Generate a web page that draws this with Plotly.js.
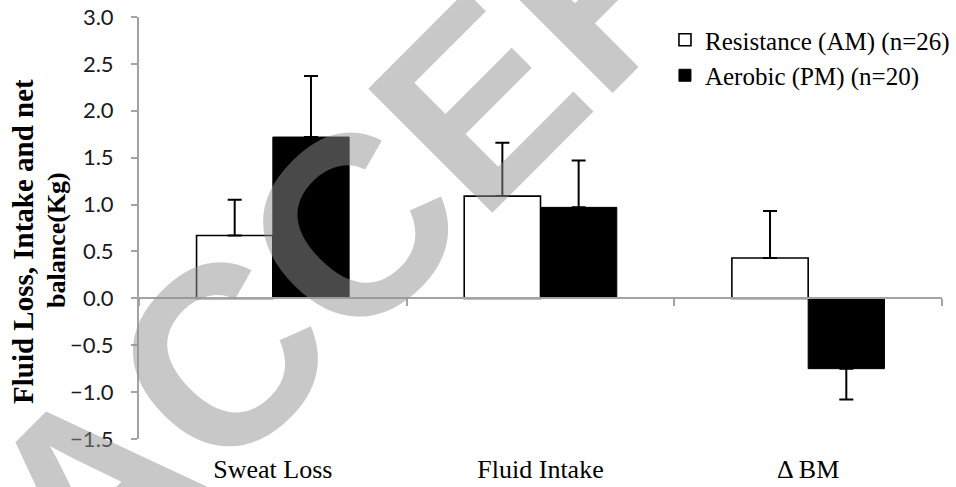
<!DOCTYPE html>
<html>
<head>
<meta charset="utf-8">
<script src="https://cdn.plot.ly/plotly-3.0.1.min.js"></script>
<style>html,body{margin:0;padding:0;background:#fff;}#chart{width:956px;height:487px;}</style>
</head>
<body>
<div id="chart"></div>
<script>
// ---- data ----
const categories = ["Sweat Loss", "Fluid Intake", "\u0394 BM"];
const seriesNames = ["Resistance (AM) (n=26)", "Aerobic (PM) (n=20)"];
const resistance = [0.67, 1.09, 0.43];
const resistanceErrUp = [0.38, 0.57, 0.50];
const resistanceErrDown = [0, 0, 0];
const aerobic = [1.72, 0.97, -0.75];
const aerobicErrUp = [0.65, 0.50, 0];
const aerobicErrDown = [0, 0, 0.33];
const yTicks = [-1.5, -1.0, -0.5, 0.0, 0.5, 1.0, 1.5, 2.0, 2.5, 3.0];
const yTitleLines = ["Fluid Loss, Intake and net", "balance(Kg)"];
const watermarkLetters = ["A", "C", "C", "E", "P"];

const serif = "'Liberation Serif', 'Times New Roman', serif";

const traces = [
  {
    type: "bar", name: seriesNames[0], x: categories, y: resistance,
    marker: {color: "#ffffff", line: {color: "#000000", width: 1.6}},
    error_y: {type: "data", symmetric: false, array: resistanceErrUp, arrayminus: resistanceErrDown,
              color: "#000000", thickness: 2, width: 7},
    hoverinfo: "skip"
  },
  {
    type: "bar", name: seriesNames[1], x: categories, y: aerobic,
    marker: {color: "#000000", line: {color: "#000000", width: 1}},
    error_y: {type: "data", symmetric: false, array: aerobicErrUp, arrayminus: aerobicErrDown,
              color: "#000000", thickness: 2, width: 7},
    hoverinfo: "skip"
  },
  {
    // carrier for the category axis drawn along y = 0
    type: "scatter", mode: "none", x: categories, y: categories.map(() => null),
    xaxis: "x2", yaxis: "y", showlegend: false, hoverinfo: "skip"
  }
];

const axisGray = "#a3a3a3";
const M = {l: 139, r: 14, t: 17, b: 48, autoexpand: false};
const W = 956, H = 487;
const pw = W - M.l - M.r, ph = H - M.t - M.b;
const toPaperX = px => (px - M.l) / pw;
const toPaperY = py => (H - M.b - py) / ph;

// diagonal "ACCEPTED" watermark, one glyph per annotation (Arial-Bold advances)
const wmSize = 255, wmAngle = 45 * Math.PI / 180;
const advances = {A: 0.722, C: 0.722, E: 0.667, P: 0.667};
const bx = Math.cos(wmAngle), by = -Math.sin(wmAngle);
const ux = -Math.sin(wmAngle), uy = -Math.cos(wmAngle);
let ox = 89.3, oy = 615.7;
const wmAnnotations = [];
watermarkLetters.forEach(ch => {
  const adv = advances[ch] * wmSize;
  const cx = ox + bx * adv / 2 + ux * 0.3465 * wmSize;
  const cy = oy + by * adv / 2 + uy * 0.3465 * wmSize;
  wmAnnotations.push({
    text: "<b>" + ch + "</b>", xref: "paper", yref: "paper",
    x: toPaperX(cx), y: toPaperY(cy), xanchor: "center", yanchor: "middle",
    textangle: -45, showarrow: false,
    font: {family: "'Liberation Sans', Arial, sans-serif", size: wmSize, color: "rgba(146,146,146,0.5)"}
  });
  ox += bx * adv; oy += by * adv;
});

const layout = {
  width: W, height: H,
  margin: M,
  paper_bgcolor: "#ffffff", plot_bgcolor: "#ffffff",
  barmode: "group", bargap: 0.43, bargroupgap: 0,
  showlegend: true,
  legend: {
    x: 0.655, xanchor: "left", y: 1.0, yanchor: "top",
    font: {family: serif, size: 25, color: "#000"},
    bgcolor: "rgba(0,0,0,0)", tracegroupgap: 0, itemclick: false
  },
  xaxis: {
    type: "category", categoryorder: "array", categoryarray: categories,
    range: [-0.5, 2.5],
    showline: false, showgrid: false, zeroline: false, ticks: "",
    ticklabelstandoff: 12,
    tickfont: {family: serif, size: 26, color: "#000"}
  },
  xaxis2: {
    type: "category", categoryorder: "array", categoryarray: categories,
    range: [-0.5, 2.5], overlaying: "x", anchor: "free", position: 1/3, side: "bottom",
    showline: true, linecolor: axisGray, linewidth: 2,
    ticks: "outside", tickson: "boundaries", ticklen: 7, tickwidth: 2, tickcolor: axisGray,
    showticklabels: false, showgrid: false, zeroline: false
  },
  yaxis: {
    range: [-1.5, 3.0], tickvals: yTicks, tickformat: ".1f",
    showline: true, linecolor: axisGray, linewidth: 2,
    ticks: "outside", ticklen: 6, tickwidth: 2, tickcolor: axisGray,
    ticklabelstandoff: 13,
    showgrid: false, zeroline: false,
    tickfont: {family: "Lato, 'Open Sans', sans-serif", size: 22, color: "#1a1a1a"}
  },
  annotations: [
    {
      text: yTitleLines[0], xref: "paper", yref: "paper", x: toPaperX(23), y: toPaperY(242),
      xanchor: "center", yanchor: "middle", textangle: -90, showarrow: false,
      font: {family: serif, size: 29, color: "#000", weight: "bold"}
    },
    {
      text: yTitleLines[1], xref: "paper", yref: "paper", x: toPaperX(56), y: toPaperY(240),
      xanchor: "center", yanchor: "middle", textangle: -90, showarrow: false,
      font: {family: serif, size: 26, color: "#000", weight: "bold"}
    }
  ].concat(wmAnnotations)
};

Plotly.newPlot("chart", traces, layout, {staticPlot: true, displayModeBar: false});
</script>
</body>
</html>
